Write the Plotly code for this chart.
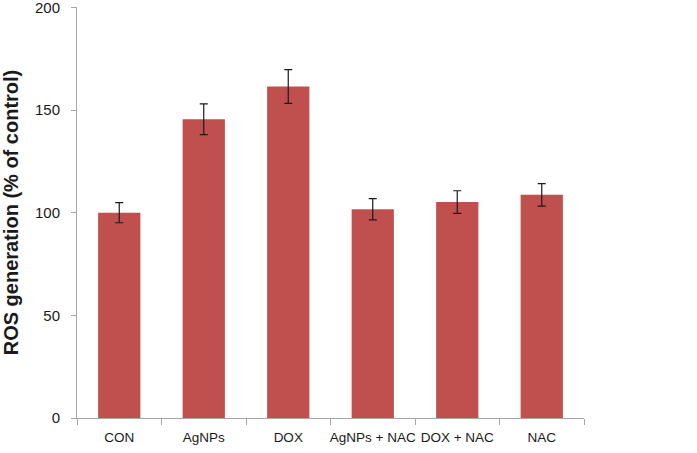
import plotly.graph_objects as go

categories = ["CON", "AgNPs", "DOX", "AgNPs + NAC", "DOX + NAC", "NAC"]
ros_values = [100, 145.5, 161.5, 101.7, 105.2, 108.7]
ros_errors = [4.9, 7.5, 8.2, 5.2, 5.5, 5.5]
y_ticks = [0, 50, 100, 150, 200]

fig = go.Figure(go.Bar(
    x=categories, y=ros_values,
    marker=dict(color="#C0504D", line=dict(width=0)),
    error_y=dict(type="data", array=ros_errors, visible=True,
                 color="#1a1a1a", thickness=1.2, width=4),
))

fig.update_layout(
    width=697, height=453,
    margin=dict(l=77, r=113, t=7, b=35),
    paper_bgcolor="white", plot_bgcolor="white",
    bargap=0.5,
    showlegend=False,
    font=dict(family="Arial, Liberation Sans, sans-serif", color="#1a1a1a"),
)
fig.update_xaxes(
    showline=True, linecolor="#a6a6a6", linewidth=1,
    ticks="outside", tickson="boundaries", ticklen=6, tickcolor="#a6a6a6",
    tickfont=dict(size=13.5, color="#1a1a1a"), tickangle=0,
    ticklabelstandoff=7,
    showgrid=False, automargin=False,
)
fig.update_yaxes(
    range=[0, 200.2], tickvals=y_ticks,
    showline=True, linecolor="#a6a6a6", linewidth=1,
    ticks="outside", ticklen=5, tickcolor="#a6a6a6",
    tickfont=dict(size=15, color="#1a1a1a"),
    ticklabelstandoff=8, ticklabeloverflow="allow",
    showgrid=False, zeroline=False, automargin=False,
    title=dict(text="<b>ROS generation (% of control)</b>", font=dict(size=20, color="#1a1a1a"), standoff=10),
)

fig.write_html("out.html", config={"displayModeBar": False},
               post_script="document.body.style.margin='0px';")
